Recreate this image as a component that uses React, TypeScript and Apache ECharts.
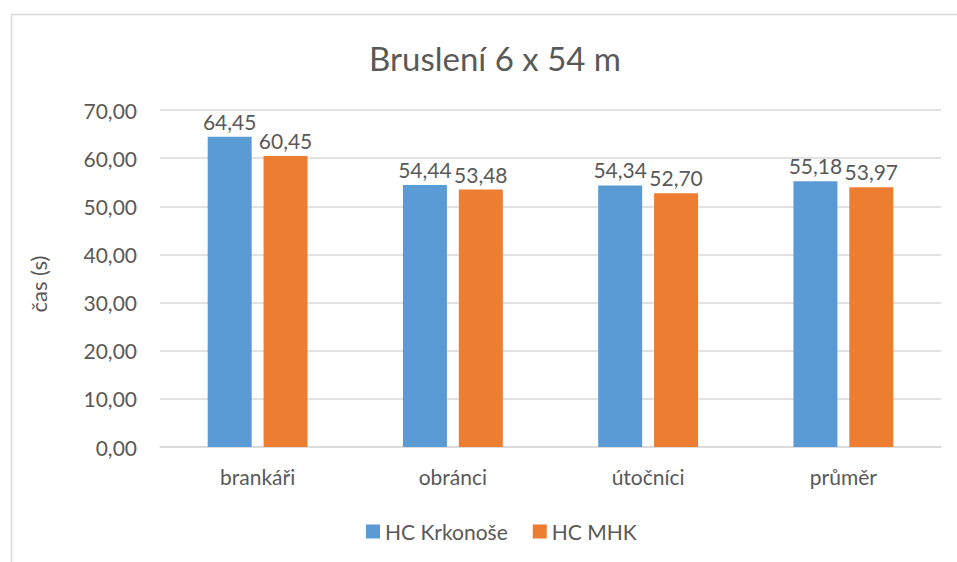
import React, { useEffect, useRef } from "react";
import * as echarts from "echarts";

const categories = ["brankáři", "obránci", "útočníci", "průměr"];
const krkonose = [64.45, 54.44, 54.34, 55.18];
const mhk = [60.45, 53.48, 52.7, 53.97];
const seriesNames = ["HC Krkonoše", "HC MHK"];
const titleText = "Bruslení 6 x 54 m";
const yAxisName = "čas (s)";

const FONT = "Lato, 'Open Sans', sans-serif";
const TXT = "#595959";
const fmt = (v: number) => v.toFixed(2).replace(".", ",");

export default function App() {
  const ref = useRef<HTMLDivElement>(null);
  useEffect(() => {
    if (!ref.current) return;
    const chart = echarts.init(ref.current, null, { renderer: "svg" });
    const label = {
      show: true,
      position: "top",
      distance: 5,
      color: TXT,
      fontSize: 21,
      fontFamily: FONT,
      formatter: (p: any) => fmt(p.value),
    };
    chart.setOption({
      animation: false,
      backgroundColor: "#ffffff",
      textStyle: { fontFamily: FONT, color: TXT },
      graphic: [
        {
          type: "rect",
          left: 9,
          top: 12,
          shape: { width: 1000, height: 600 },
          style: { fill: "none", stroke: "#d9d9d9", lineWidth: 1.5 },
          silent: true,
        },
        {
          type: "group",
          x: 38,
          y: 284,
          rotation: Math.PI / 2,
          silent: true,
          children: [
            {
              type: "text",
              x: 0,
              y: 0,
              style: {
                text: yAxisName,
                fill: TXT,
                fontSize: 22,
                fontFamily: FONT,
                align: "center",
                verticalAlign: "middle",
              },
            },
          ],
        },
      ],
      title: {
        text: titleText,
        left: 364,
        top: 36,
        textStyle: { fontSize: 33, fontWeight: "normal", color: TXT, fontFamily: FONT },
      },
      legend: {
        bottom: 15,
        left: 361,
        itemWidth: 14,
        itemHeight: 14,
        itemGap: 25,
        icon: "rect",
        textStyle: { fontSize: 21, color: TXT, fontFamily: FONT },
        data: seriesNames,
      },
      grid: { left: 160, right: 16, top: 110, bottom: 115 },
      xAxis: {
        type: "category",
        data: categories,
        axisTick: { show: false },
        axisLine: { lineStyle: { color: "#d9d9d9", width: 1.5 } },
        axisLabel: { color: TXT, fontSize: 21, margin: 19, fontFamily: FONT },
      },
      yAxis: {
        type: "value",
        min: 0,
        max: 70,
        interval: 10,
        axisLine: { show: false },
        axisTick: { show: false },
        axisLabel: { color: TXT, fontSize: 21, margin: 23, fontFamily: FONT, formatter: (v: number) => fmt(v) },
        splitLine: { lineStyle: { color: "#d9d9d9", width: 1.5 } },
      },
      series: [
        {
          name: seriesNames[0],
          type: "bar",
          data: krkonose,
          barWidth: 44,
          barGap: "27%",
          itemStyle: { color: "#5B9BD5" },
          label,
        },
        {
          name: seriesNames[1],
          type: "bar",
          data: mhk,
          barWidth: 44,
          itemStyle: { color: "#ED7D31" },
          label,
        },
      ],
    });
    return () => chart.dispose();
  }, []);
  return (
    <div
      ref={ref}
      style={{ position: "fixed", left: 0, top: 0, width: 957, height: 562 }}
    />
  );
}
